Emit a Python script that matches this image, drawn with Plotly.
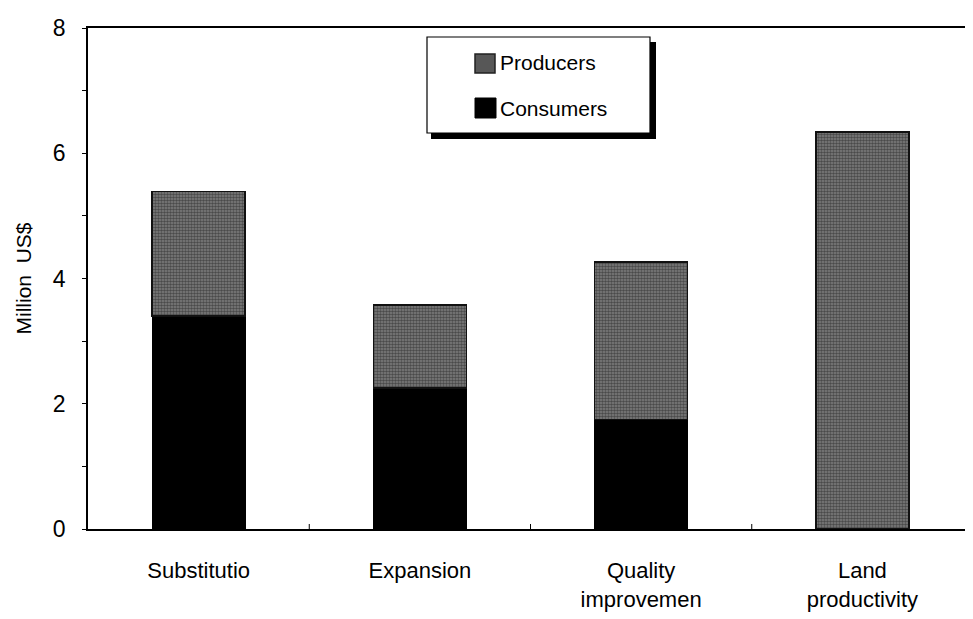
import plotly.graph_objects as go

categories = ["Substitutio", "Expansion", "Quality<br>improvemen", "Land<br>productivity"]
consumers = [3.4, 2.25, 1.75, 0.0]
producers = [1.99, 1.33, 2.51, 6.34]
legend_labels = ["Producers", "Consumers"]

FONT = "Liberation Sans, Arial, sans-serif"
# the page body keeps its default 8px margin, so the figure is 8px smaller than the window
W, H = 965, 611
L, R, T, B = 80, 0, 20, 90
PW, PH = W - L - R, H - T - B
AX_LEFT, AX_BOTTOM = 88, 529  # plot area in window pixels


def px_x(x):
    return (x - AX_LEFT) / PW


def px_y(y):
    return (AX_BOTTOM - y) / PH


PATTERN = dict(shape=".", size=3, solidity=0.55, fgcolor="#161616", bgcolor="#7e7e7e")

fig = go.Figure()
fig.add_trace(go.Bar(
    x=categories, y=consumers, name="Consumers",
    marker=dict(color="#000000", line=dict(color="#000000", width=1)),
    width=0.42,
))
fig.add_trace(go.Bar(
    x=categories, y=producers, name="Producers",
    marker=dict(color="#666666", line=dict(color="#111111", width=1.5), pattern=PATTERN),
    width=0.42,
))

# hand-drawn legend box with drop shadow (as in the original)
fig.add_shape(type="rect", xref="paper", yref="paper",
              x0=px_x(431), x1=px_x(656), y0=px_y(139), y1=px_y(42),
              fillcolor="#000000", line=dict(width=0), layer="above")
fig.add_shape(type="rect", xref="paper", yref="paper",
              x0=px_x(427), x1=px_x(650), y0=px_y(133), y1=px_y(37),
              fillcolor="white", line=dict(color="#000000", width=1.2), layer="above")
# legend swatches
fig.add_shape(type="rect", xref="paper", yref="paper",
              x0=px_x(475), x1=px_x(495), y0=px_y(73), y1=px_y(54),
              fillcolor="#575757", line=dict(color="#222222", width=1.5), layer="above")
fig.add_shape(type="rect", xref="paper", yref="paper",
              x0=px_x(475), x1=px_x(496), y0=px_y(118), y1=px_y(98),
              fillcolor="#000000", line=dict(color="#000000", width=1), layer="above")
for lab, yc in zip(legend_labels, [63, 108]):
    fig.add_annotation(text=lab, xref="paper", yref="paper", x=px_x(498), y=px_y(yc),
                       xanchor="left", yanchor="middle", showarrow=False,
                       font=dict(family=FONT, size=21, color="#000000"))

fig.update_layout(
    barmode="stack",
    width=W, height=H,
    margin=dict(l=L, r=R, t=T, b=B),
    plot_bgcolor="white", paper_bgcolor="white",
    font=dict(family=FONT, size=18, color="#000000"),
    showlegend=False,
)
fig.update_xaxes(
    range=[-0.5, 3.5], showline=True, linecolor="#000000", linewidth=1.5, mirror=True,
    ticks="", tickfont=dict(size=22), ticklabelstandoff=21, automargin=False,
)
fig.update_yaxes(
    range=[0, 8], tickvals=[0, 2, 4, 6, 8], showline=True, linecolor="#000000", linewidth=1.5,
    ticks="outside", ticklen=4, tickcolor="#000000", showgrid=False, zeroline=False,
    minor=dict(tickvals=[1, 3, 5, 7], ticks="outside", ticklen=4, tickcolor="#000000"),
    tickfont=dict(size=23), ticklabelstandoff=12, automargin=False,
    title=dict(text="Million  US$", font=dict(size=21), standoff=16),
)
# small category separator ticks on the x axis
for xv in [0.5, 1.5, 2.5]:
    fig.add_shape(type="line", xref="x", yref="paper", x0=xv, x1=xv, y0=0, y1=0.01,
                  line=dict(color="#000000", width=1))

fig.write_html("out.html")
